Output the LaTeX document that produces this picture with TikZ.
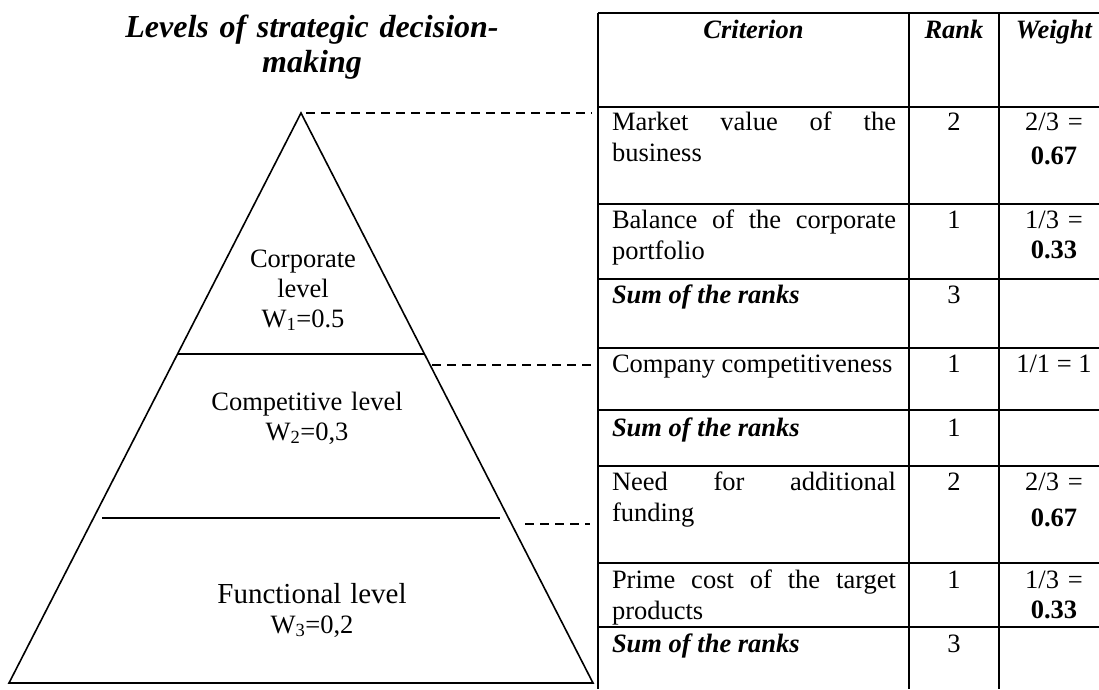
\documentclass[tikz,border=0pt]{standalone}
\usepackage{fontspec}
\setmainfont{Liberation Serif}
\newcommand\nohyph{\hyphenpenalty=10000\relax\tolerance=10000\relax}
\begin{document}
\begin{tikzpicture}[x=1pt,y=-1pt,
  ln/.style={line width=1.6pt},
  dsh/.style={line width=1.4pt, dash pattern=on 9pt off 6pt},
  txt/.style={inner sep=0pt, outer sep=0pt, anchor=base,
    font=\fontsize{26.5}{30}\selectfont\nohyph},
  ttl/.style={txt, text width=420pt, align=center,
    font=\fontsize{32}{35}\selectfont\bfseries\itshape},
  lbl/.style={txt, text width=260pt, align=center},
  cell/.style={txt, anchor=base west, text width=284pt, align=justify,
    font=\fontsize{26.5}{31}\selectfont\nohyph},
  sumcell/.style={cell, font=\fontsize{26.5}{31}\selectfont\bfseries\itshape\nohyph},
  hdr/.style={txt, font=\fontsize{26.5}{31}\selectfont\bfseries\itshape},
  num/.style={txt, text width=110pt, align=center}
]
\useasboundingbox (0,0) rectangle (1099,689);

% ---- title
\node[ttl] (title) at (312,37) {Levels of strategic decision-\\making};

% ---- pyramid
\coordinate (apex) at (301,113);
\coordinate (bl) at (9,683);
\coordinate (br) at (593,683);
\coordinate (c1l) at (177.6,354);
\coordinate (c1r) at (424.4,354);
\coordinate (f1l) at (102,518);
\coordinate (f1r) at (500,518);
\draw[ln, line join=miter] (apex) -- (bl) -- (br) -- cycle;
\draw[ln] (c1l) -- (c1r);
\draw[ln] (f1l) -- (f1r);

\node[lbl] (corp) at (303,267) {Corporate\\level\\W\textsubscript{1}=0.5};
\node[lbl] (comp) at (307,410) {Competitive level\\W\textsubscript{2}=0,3};
\node[lbl] (func) at (312,603) {{\fontsize{29}{30}\selectfont Functional level}\\W\textsubscript{3}=0,2};

% ---- dashed connectors
\coordinate (d1a) at (306,113);
\coordinate (d1b) at (592,113);
\coordinate (d2a) at (432,365);
\coordinate (d2b) at (592,365);
\coordinate (d3a) at (525,524);
\coordinate (d3b) at (590,524);
\draw[dsh] (d1a) -- (d1b);
\draw[dsh] (d2a) -- (d2b);
\draw[dsh] (d3a) -- (d3b);

% ---- table grid
\foreach \yy in {13,107,204,279,348,410,466,563,627}
  \draw[ln] (598,\yy) -- (1099,\yy);
\foreach \xx in {598,909,999}
  \draw[ln] (\xx,13) -- (\xx,689);

% ---- header
\node[hdr] (hcrit) at (753.5,38) {Criterion};
\node[hdr] (hrank) at (954,38) {Rank};
\node[hdr] (hweight) at (1054,38) {Weight};

% ---- corporate block
\node[cell] (r1c) at (612,130) {Market value of the business};
\node[txt] (r1r) at (954,130) {2};
\node[num] (r1w) at (1054,130) {2/3 =\\[4pt]\textbf{0.67}};

\node[cell] (r2c) at (612,228) {Balance of the corporate portfolio};
\node[txt] (r2r) at (954,228) {1};
\node[num] (r2w) at (1054,228) {1/3 =\\\textbf{0.33}};

\node[sumcell] (r3c) at (612,303) {Sum of the ranks};
\node[txt] (r3r) at (954,303) {3};

% ---- competitive block
\node[cell] (r4c) at (612,372) {Company competitiveness};
\node[txt] (r4r) at (954,372) {1};
\node[txt] (r4w) at (1054,372) {1/1 = 1};

\node[sumcell] (r5c) at (612,436) {Sum of the ranks};
\node[txt] (r5r) at (954,436) {1};

% ---- functional block
\node[cell] (r6c) at (612,490) {Need for additional funding};
\node[txt] (r6r) at (954,490) {2};
\node[num] (r6w) at (1054,490) {2/3 =\\[6pt]\textbf{0.67}};

\node[cell] (r7c) at (612,588) {Prime cost of the target products};
\node[txt] (r7r) at (954,588) {1};
\node[num] (r7w) at (1054,588) {1/3 =\\\textbf{0.33}};

\node[sumcell] (r8c) at (612,652) {Sum of the ranks};
\node[txt] (r8r) at (954,652) {3};
\end{tikzpicture}
\end{document}
